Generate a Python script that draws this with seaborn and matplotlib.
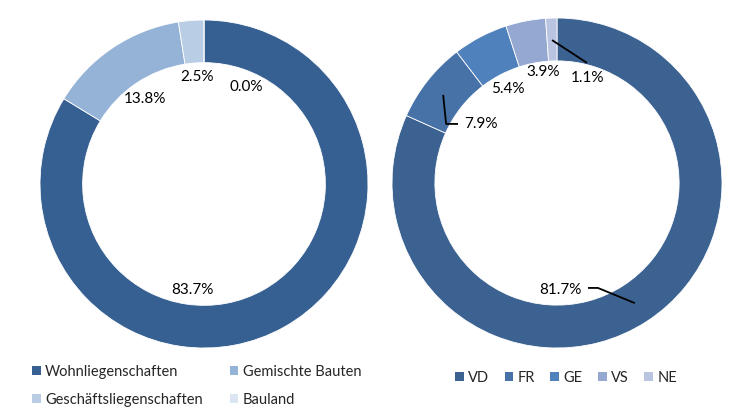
import matplotlib
matplotlib.use("Agg")
import matplotlib.pyplot as plt
import seaborn as sns
from matplotlib.patches import Patch

# ---- data ----
types = ["Wohnliegenschaften", "Gemischte Bauten", "Geschäftsliegenschaften", "Bauland"]
type_share = [83.7, 13.8, 2.5, 0.0]
type_colors = ["#366092", "#95B3D7", "#B9CDE5", "#DCE6F2"]

cantons = ["VD", "FR", "GE", "VS", "NE"]
canton_share = [81.7, 7.9, 5.4, 3.9, 1.1]
canton_colors = ["#3C6291", "#4672A8", "#4F81BD", "#95A8D2", "#B9C4E0"]

# label positions (axes fraction), layout only
type_label_pos = [(0.466, 0.177), (0.320, 0.759), (0.479, 0.826), (0.628, 0.796)]
canton_label_pos = [(0.509, 0.176), (0.270, 0.679), (0.350, 0.785), (0.458, 0.836), (0.592, 0.818)]

sns.set_theme(style="white")
plt.rcParams["font.family"] = ["Lato", "DejaVu Sans"]

fig = plt.figure(figsize=(7.36, 4.08), dpi=100)
W, H = 736, 408

def box(x0, y0, x1, y1):
    return [x0 / W, 1 - y1 / H, (x1 - x0) / W, (y1 - y0) / H]

ax1 = fig.add_axes(box(40, 20, 368, 348))
ax2 = fig.add_axes(box(392, 18, 722, 348))

ring = dict(width=0.26, edgecolor="white", linewidth=0.6)
for ax, vals, cols in [(ax1, type_share, type_colors), (ax2, canton_share, canton_colors)]:
    ax.pie(vals, colors=cols, startangle=90, counterclock=False, radius=1.0,
           wedgeprops=ring)
    ax.set_xlim(-1, 1)
    ax.set_ylim(-1, 1)
    ax.set_aspect("equal")
    ax.axis("off")

fs = 11
for v, (x, y) in zip(type_share, type_label_pos):
    ax1.text(x, y, f"{v:.1f}%", transform=ax1.transAxes, ha="center", va="center",
             fontsize=fs, color="black")
for v, (x, y) in zip(canton_share, canton_label_pos):
    ax2.text(x, y, f"{v:.1f}%", transform=ax2.transAxes, ha="center", va="center",
             fontsize=fs, color="black")

# leader lines (right chart)
lk = dict(transform=ax2.transAxes, color="black", lw=1.3, solid_capstyle="butt")
ax2.plot([0.485, 0.591], [0.933, 0.864], **lk)
ax2.plot([0.155, 0.164, 0.200], [0.767, 0.679, 0.679], **lk)
ax2.plot([0.594, 0.624, 0.736], [0.182, 0.182, 0.136], **lk)

# legends
h1 = [Patch(facecolor=c, edgecolor="none", label=t) for t, c in zip(types, type_colors)]
order = [0, 2, 1, 3]
fig.legend([h1[i] for i in order], [types[i] for i in order], ncol=2,
           loc="upper left", bbox_to_anchor=(32 / W, 1 - 365 / H), frameon=False,
           fontsize=10.5, handlelength=0.6, handleheight=0.6, handletextpad=0.3,
           columnspacing=1.85, labelspacing=0.95, borderpad=0, borderaxespad=0)

h2 = [Patch(facecolor=c, edgecolor="none", label=t) for t, c in zip(cantons, canton_colors)]
fig.legend(h2, cantons, ncol=5, loc="upper left", bbox_to_anchor=(455 / W, 1 - 371 / H),
           frameon=False, fontsize=10.5, handlelength=0.6, handleheight=0.6,
           handletextpad=0.3, columnspacing=1.05, borderpad=0, borderaxespad=0)

fig.savefig("out.png", dpi=100)
